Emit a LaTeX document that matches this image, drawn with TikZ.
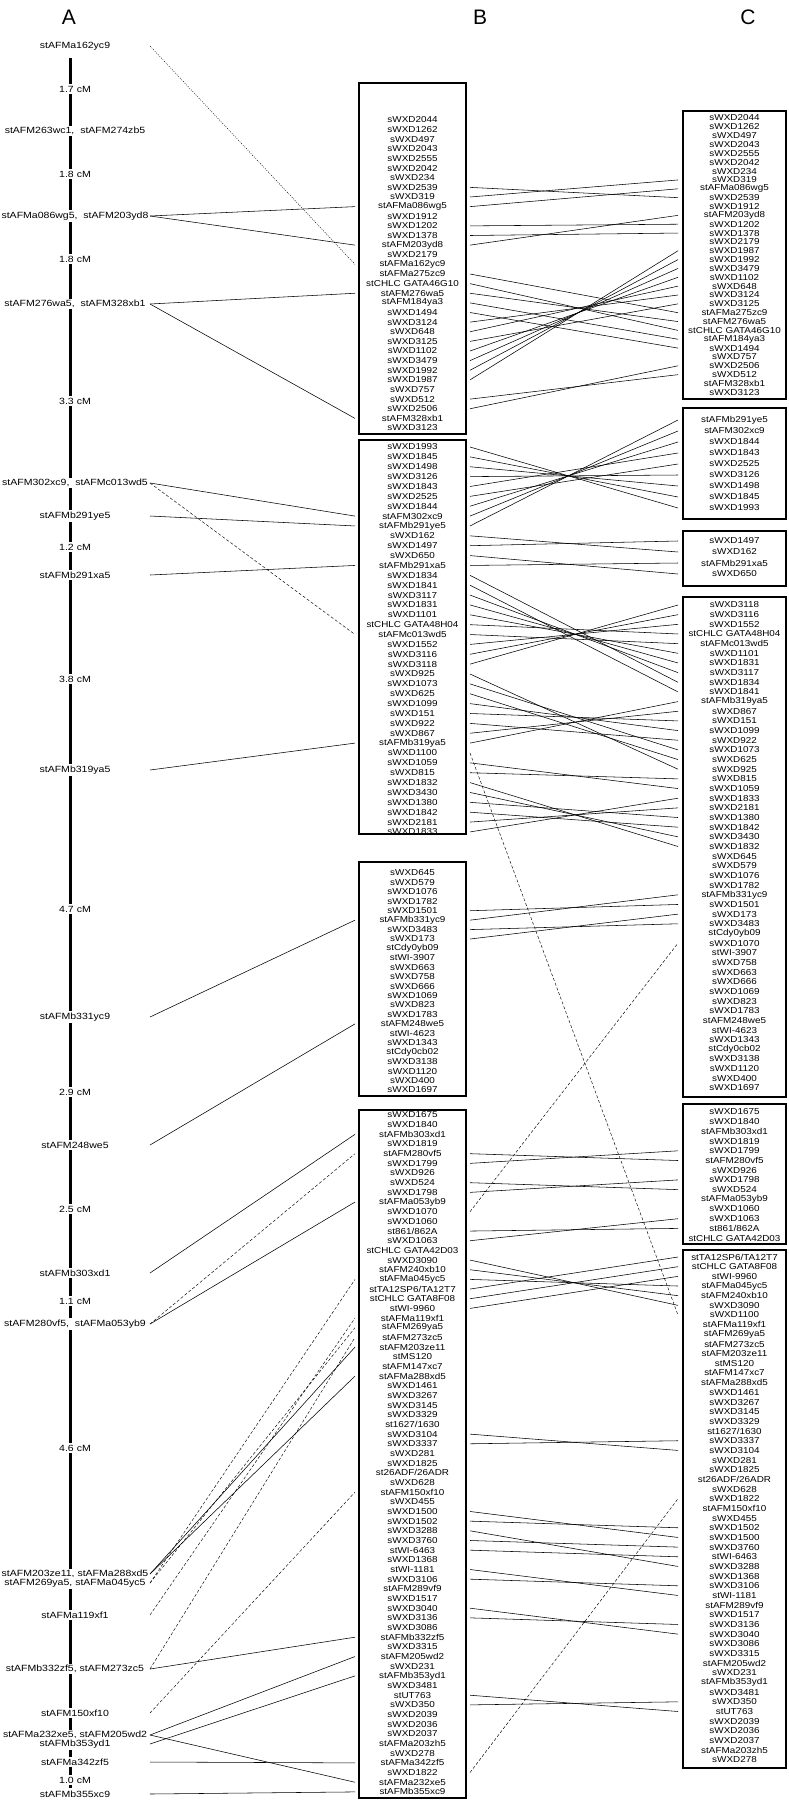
\documentclass[tikz,border=0pt]{standalone}
\usepackage{fontspec}
\setmainfont{Liberation Sans}
\usepackage{graphicx}
\newcommand{\ax}[1]{\scalebox{1.17}[1]{#1}}
\newcommand{\bx}[1]{\scalebox{1.15}[1]{#1}}
\begin{document}
\begin{tikzpicture}[x=1pt,y=-1pt,
  hdr/.style={font=\fontsize{21}{21}\selectfont, inner sep=0},
  alab/.style={font=\fontsize{9}{9}\selectfont, fill=white, inner sep=1.5pt},
  mk/.style={font=\fontsize{8.6}{8.6}\selectfont, inner sep=0},
  grp/.style={draw, line width=1.8pt},
  ln/.style={line width=0.55pt},
  dln/.style={line width=0.45pt, dash pattern=on 3pt off 2pt},
  dotln/.style={line width=0.45pt, dash pattern=on 1pt off 1.3pt}]
\useasboundingbox (0,0) rectangle (789,1800);
% ports
\coordinate (AR) at (150,0);
\coordinate (BL) at (355,0);
\coordinate (BR) at (470,0);
\coordinate (CL) at (678,0);
% headers
\node[hdr] (hA) at (69,17) {A};
\node[hdr] (hB) at (480,17) {B};
\node[hdr] (hC) at (748,17) {C};
% A axis
\draw[line width=3pt] (70,58) -- (70,1788);
\foreach \t/\y/\n in {
 stAFMa162yc9/46/1, 1.7 cM/89/2, {stAFM263wc1,\ \ stAFM274zb5}/131/3, 1.8 cM/174/4,
 {stAFMa086wg5,\ \ stAFM203yd8}/216/5, 1.8 cM/259/6, {stAFM276wa5,\ \ stAFM328xb1}/304/7,
 3.3 cM/401/8, {stAFM302xc9,\ \ stAFMc013wd5}/483/9, stAFMb291ye5/516/10, 1.2 cM/547/11,
 stAFMb291xa5/575/12, 3.8 cM/679/13, stAFMb319ya5/770/14, 4.7 cM/909/15,
 stAFMb331yc9/1017/16, 2.9 cM/1092/17, stAFM248we5/1145/18, 2.5 cM/1209/19,
 stAFMb303xd1/1273/20, 1.1 cM/1301/21, {stAFM280vf5,\ \ stAFMa053yb9}/1324/22,
 4.6 cM/1448/23, {stAFM203ze11, stAFMa288xd5}/1574/24, {stAFM269ya5, stAFMa045yc5}/1583/25,
 stAFMa119xf1/1615/26, {stAFMb332zf5, stAFM273zc5}/1669/27, stAFM150xf10/1713/28,
 {stAFMa232xe5, stAFM205wd2}/1735/29, stAFMb353yd1/1744/30, stAFMa342zf5/1762/31,
 1.0 cM/1780/32, stAFMb355xc9/1794/33}
 \node[alab] (a\n) at (75,\y) {\ax{\t}};
% B column
\draw[grp] (359,83) rectangle (466,434);
\draw[grp] (359,440) rectangle (466,834);
\draw[grp] (359,862) rectangle (466,1096);
\draw[grp] (359,1110) rectangle (466,1798);
\foreach \t [count=\i] in {sWXD2044, sWXD1262, sWXD497, sWXD2043, sWXD2555, sWXD2042, sWXD234, sWXD2539, sWXD319, stAFMa086wg5, sWXD1912, sWXD1202, sWXD1378, stAFM203yd8, sWXD2179, stAFMa162yc9, stAFMa275zc9, stCHLC GATA46G10, stAFM276wa5, stAFM184ya3, sWXD1494, sWXD3124, sWXD648, sWXD3125, sWXD1102, sWXD3479, sWXD1992, sWXD1987, sWXD757, sWXD512, sWXD2506, stAFM328xb1, sWXD3123}
 \node[mk] (B1r\i) at (412.5,120+9.625*\i-9.625) {\bx{\t}};
\foreach \t [count=\i] in {sWXD1993, sWXD1845, sWXD1498, sWXD3126, sWXD1843, sWXD2525, sWXD1844, stAFM302xc9, stAFMb291ye5, sWXD162, sWXD1497, sWXD650, stAFMb291xa5, sWXD1834, sWXD1841, sWXD3117, sWXD1831, sWXD1101, stCHLC GATA48H04, stAFMc013wd5, sWXD1552, sWXD3116, sWXD3118, sWXD925, sWXD1073, sWXD625, sWXD1099, sWXD151, sWXD922, sWXD867, stAFMb319ya5, sWXD1100, sWXD1059, sWXD815, sWXD1832, sWXD3430, sWXD1380, sWXD1842, sWXD2181, sWXD1833}
 \node[mk] (B2r\i) at (412.5,447+9.87*\i-9.87) {\bx{\t}};
\foreach \t [count=\i] in {sWXD645, sWXD579, sWXD1076, sWXD1782, sWXD1501, stAFMb331yc9, sWXD3483, sWXD173, stCdy0yb09, stWI-3907, sWXD663, sWXD758, sWXD666, sWXD1069, sWXD823, sWXD1783, stAFM248we5, stWI-4623, sWXD1343, stCdy0cb02, sWXD3138, sWXD1120, sWXD400, sWXD1697}
 \node[mk] (B3r\i) at (412.5,873+9.43*\i-9.43) {\bx{\t}};
\foreach \t [count=\i] in {sWXD1675, sWXD1840, stAFMb303xd1, sWXD1819, stAFM280vf5, sWXD1799, sWXD926, sWXD524, sWXD1798, stAFMa053yb9, sWXD1070, sWXD1060, st861/862A, sWXD1063, stCHLC GATA42D03, sWXD3090, stAFM240xb10, stAFMa045yc5, stTA12SP6/TA12T7, stCHLC GATA8F08, stWI-9960, stAFMa119xf1, stAFM269ya5, stAFM273zc5, stAFM203ze11, stMS120, stAFM147xc7, stAFMa288xd5, sWXD1461, sWXD3267, sWXD3145, sWXD3329, st1627/1630, sWXD3104, sWXD3337, sWXD281, sWXD1825, st26ADF/26ADR, sWXD628, stAFM150xf10, sWXD455, sWXD1500, sWXD1502, sWXD3288, sWXD3760, stWI-6463, sWXD1368, stWI-1181, sWXD3106, stAFM289vf9, sWXD1517, sWXD3040, sWXD3136, sWXD3086, stAFMb332zf5, sWXD3315, stAFM205wd2, sWXD231, stAFMb353yd1, sWXD3481, stUT763, sWXD350, sWXD2039, sWXD2036, sWXD2037, stAFMa203zh5, sWXD278, stAFMa342zf5, sWXD1822, stAFMa232xe5, stAFMb355xc9}
 \node[mk] (B4r\i) at (412.5,1115+9.67*\i-9.67) {\bx{\t}};
% C column
\draw[grp] (683,111) rectangle (786,399);
\draw[grp] (683,408) rectangle (786,519);
\draw[grp] (683,531) rectangle (786,586);
\draw[grp] (683,597) rectangle (786,1097);
\draw[grp] (683,1104) rectangle (786,1244);
\draw[grp] (683,1250) rectangle (786,1768);
\foreach \t [count=\i] in {sWXD2044, sWXD1262, sWXD497, sWXD2043, sWXD2555, sWXD2042, sWXD234, sWXD319, stAFMa086wg5, sWXD2539, sWXD1912, stAFM203yd8, sWXD1202, sWXD1378, sWXD2179, sWXD1987, sWXD1992, sWXD3479, sWXD1102, sWXD648, sWXD3124, sWXD3125, stAFMa275zc9, stAFM276wa5, stCHLC GATA46G10, stAFM184ya3, sWXD1494, sWXD757, sWXD2506, sWXD512, stAFM328xb1, sWXD3123}
 \node[mk] (C1r\i) at (734.5,118+8.85*\i-8.85) {\bx{\t}};
\foreach \t [count=\i] in {stAFMb291ye5, stAFM302xc9, sWXD1844, sWXD1843, sWXD2525, sWXD3126, sWXD1498, sWXD1845, sWXD1993}
 \node[mk] (C2r\i) at (734.5,420+11*\i-11) {\bx{\t}};
\foreach \t [count=\i] in {sWXD1497, sWXD162, stAFMb291xa5, sWXD650}
 \node[mk] (C3r\i) at (734.5,541+11*\i-11) {\bx{\t}};
\foreach \t [count=\i] in {sWXD3118, sWXD3116, sWXD1552, stCHLC GATA48H04, stAFMc013wd5, sWXD1101, sWXD1831, sWXD3117, sWXD1834, sWXD1841, stAFMb319ya5, sWXD867, sWXD151, sWXD1099, sWXD922, sWXD1073, sWXD625, sWXD925, sWXD815, sWXD1059, sWXD1833, sWXD2181, sWXD1380, sWXD1842, sWXD3430, sWXD1832, sWXD645, sWXD579, sWXD1076, sWXD1782, stAFMb331yc9, sWXD1501, sWXD173, sWXD3483, stCdy0yb09, sWXD1070, stWI-3907, sWXD758, sWXD663, sWXD666, sWXD1069, sWXD823, sWXD1783, stAFM248we5, stWI-4623, sWXD1343, stCdy0cb02, sWXD3138, sWXD1120, sWXD400, sWXD1697}
 \node[mk] (C4r\i) at (734.5,605+9.66*\i-9.66) {\bx{\t}};
\foreach \t [count=\i] in {sWXD1675, sWXD1840, stAFMb303xd1, sWXD1819, sWXD1799, stAFM280vf5, sWXD926, sWXD1798, sWXD524, stAFMa053yb9, sWXD1060, sWXD1063, st861/862A, stCHLC GATA42D03}
 \node[mk] (C5r\i) at (734.5,1112+9.7*\i-9.7) {\bx{\t}};
\foreach \t [count=\i] in {stTA12SP6/TA12T7, stCHLC GATA8F08, stWI-9960, stAFMa045yc5, stAFM240xb10, sWXD3090, sWXD1100, stAFMa119xf1, stAFM269ya5, stAFM273zc5, stAFM203ze11, stMS120, stAFM147xc7, stAFMa288xd5, sWXD1461, sWXD3267, sWXD3145, sWXD3329, st1627/1630, sWXD3337, sWXD3104, sWXD281, sWXD1825, st26ADF/26ADR, sWXD628, sWXD1822, stAFM150xf10, sWXD455, sWXD1502, sWXD1500, sWXD3760, stWI-6463, sWXD3288, sWXD1368, sWXD3106, stWI-1181, stAFM289vf9, sWXD1517, sWXD3136, sWXD3040, sWXD3086, sWXD3315, stAFM205wd2, sWXD231, stAFMb353yd1, sWXD3481, sWXD350, stUT763, sWXD2039, sWXD2036, sWXD2037, stAFMa203zh5, sWXD278}
 \node[mk] (C6r\i) at (734.5,1257+9.67*\i-9.67) {\bx{\t}};
% A -> B connectors
\draw[dotln] (a1 -| AR) -- (B1r16 -| BL);
\draw[ln] (a5 -| AR) -- (B1r10 -| BL);
\draw[ln] (a5 -| AR) -- (B1r14 -| BL);
\draw[ln] (a7 -| AR) -- (B1r19 -| BL);
\draw[ln] (a7 -| AR) -- (B1r32 -| BL);
\draw[ln] (a9 -| AR) -- (B2r8 -| BL);
\draw[dln] (a9 -| AR) -- (B2r20 -| BL);
\draw[ln] (a10 -| AR) -- (B2r9 -| BL);
\draw[ln] (a12 -| AR) -- (B2r13 -| BL);
\draw[ln] (a14 -| AR) -- (B2r31 -| BL);
\draw[ln] (a16 -| AR) -- (B3r6 -| BL);
\draw[ln] (a18 -| AR) -- (B3r17 -| BL);
\draw[ln] (a20 -| AR) -- (B4r3 -| BL);
\draw[dln] (a22 -| AR) -- (B4r5 -| BL);
\draw[ln] (a22 -| AR) -- (B4r10 -| BL);
\draw[ln] (a24 -| AR) -- (B4r25 -| BL);
\draw[ln] (a24 -| AR) -- (B4r28 -| BL);
\draw[dln] (a25 -| AR) -- (B4r23 -| BL);
\draw[dln] (a25 -| AR) -- (B4r18 -| BL);
\draw[dln] (a26 -| AR) -- (B4r22 -| BL);
\draw[ln] (a27 -| AR) -- (B4r55 -| BL);
\draw[dln] (a27 -| AR) -- (B4r24 -| BL);
\draw[dln] (a28 -| AR) -- (B4r40 -| BL);
\draw[ln] (a29 -| AR) -- (B4r70 -| BL);
\draw[ln] (a29 -| AR) -- (B4r57 -| BL);
\draw[ln] (a30 -| AR) -- (B4r59 -| BL);
\draw[ln] (a31 -| AR) -- (B4r68 -| BL);
\draw[ln] (a33 -| AR) -- (B4r71 -| BL);
% B -> C connectors
\foreach \b/\c in {8/10, 9/8, 10/9, 12/13, 13/14, 14/12, 17/23, 18/25, 19/24, 20/26, 21/27, 22/21, 23/20, 24/22, 25/19, 26/18, 27/17, 28/16, 30/30, 31/29}
 \draw[ln] (B1r\b -| BR) -- (C1r\c -| CL);
\foreach \b/\c in {1/9, 2/8, 3/7, 4/6, 5/4, 6/5, 7/3, 8/2, 9/1}
 \draw[ln] (B2r\b -| BR) -- (C2r\c -| CL);
\foreach \b/\c in {10/2, 11/1, 12/4, 13/3}
 \draw[ln] (B2r\b -| BR) -- (C3r\c -| CL);
\foreach \b/\c in {14/9, 15/10, 16/8, 17/7, 18/6, 19/4, 20/5, 21/3, 22/2, 23/1, 24/18, 25/16, 26/17, 27/14, 28/13, 29/15, 30/12, 31/11, 33/20, 34/19, 35/26, 36/25, 37/23, 38/24, 39/22, 40/21}
 \draw[ln] (B2r\b -| BR) -- (C4r\c -| CL);
\draw[dln] (B2r32 -| BR) -- (C6r7 -| CL);
\foreach \b/\c in {5/32, 6/31, 7/34, 8/33}
 \draw[ln] (B3r\b -| BR) -- (C4r\c -| CL);
\foreach \b/\c in {5/6, 6/5, 8/9, 9/8, 13/13, 14/12}
 \draw[ln] (B4r\b -| BR) -- (C5r\c -| CL);
\draw[dln] (B4r11 -| BR) -- (C4r36 -| CL);
\foreach \b/\c in {16/6, 17/5, 18/4, 19/1, 20/2, 21/3, 34/21, 35/20, 42/30, 43/29, 44/33, 45/31, 46/32, 48/36, 49/35, 52/40, 53/39, 61/48, 62/47}
 \draw[ln] (B4r\b -| BR) -- (C6r\c -| CL);
\draw[dln] (B4r69 -| BR) -- (C6r26 -| CL);
\end{tikzpicture}
\end{document}
